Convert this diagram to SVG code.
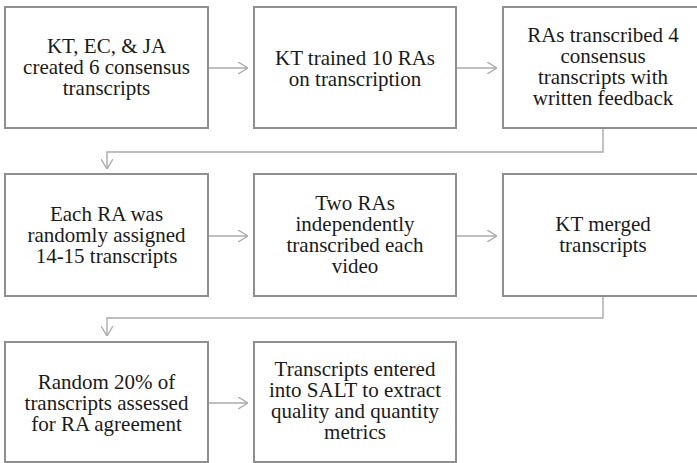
<svg xmlns="http://www.w3.org/2000/svg" width="697" height="463" viewBox="0 0 697 463">
<style>
.box{fill:#fff;stroke:#8f8f8f;stroke-width:2}
.con{fill:none;stroke:#aaaaaa;stroke-width:1.4}
.lbl{font-family:"Liberation Serif","Times New Roman",serif;font-size:21px;fill:#1a1a1a;text-anchor:middle}
</style>
<defs>
<marker id="arr" viewBox="0 0 10 12" refX="10" refY="6" markerWidth="10" markerHeight="12" markerUnits="userSpaceOnUse" orient="auto">
<path d="M0,0 L10,6 L0,12" fill="none" stroke="#aaaaaa" stroke-width="1.4"/>
</marker>
</defs>
<rect width="697" height="463" fill="#fff"/>
<g id="connectors">
<path class="con" d="M208,68 H248" marker-end="url(#arr)"/>
<path class="con" d="M456,68 H497" marker-end="url(#arr)"/>
<path class="con" d="M603,128 V152 H107 V169" marker-end="url(#arr)"/>
<path class="con" d="M208,236 H248" marker-end="url(#arr)"/>
<path class="con" d="M456,236 H497" marker-end="url(#arr)"/>
<path class="con" d="M603,296 V318 H107 V336" marker-end="url(#arr)"/>
<path class="con" d="M208,403 H248" marker-end="url(#arr)"/>
</g>
<g id="n1">
<rect class="box" x="5" y="7" width="203" height="121"/>
<text class="lbl" x="106.5" y="52.5"><tspan x="106.5">KT, EC, &amp; JA</tspan><tspan x="106.5" dy="21">created 6 consensus</tspan><tspan x="106.5" dy="21">transcripts</tspan></text>
</g>
<g id="n2">
<rect class="box" x="254" y="7" width="202" height="121"/>
<text class="lbl" x="355" y="64.5"><tspan x="355">KT trained 10 RAs</tspan><tspan x="355" dy="21">on transcription</tspan></text>
</g>
<g id="n3">
<rect class="box" x="503" y="7" width="202" height="121"/>
<text class="lbl" x="603" y="42"><tspan x="603">RAs transcribed 4</tspan><tspan x="603" dy="21">consensus</tspan><tspan x="603" dy="21">transcripts with</tspan><tspan x="603" dy="21">written feedback</tspan></text>
</g>
<g id="n4">
<rect class="box" x="5" y="174" width="203" height="122"/>
<text class="lbl" x="106.5" y="220.5"><tspan x="106.5">Each RA was</tspan><tspan x="106.5" dy="21">randomly assigned</tspan><tspan x="106.5" dy="21">14-15 transcripts</tspan></text>
</g>
<g id="n5">
<rect class="box" x="254" y="174" width="202" height="122"/>
<text class="lbl" x="355" y="210"><tspan x="355">Two RAs</tspan><tspan x="355" dy="21">independently</tspan><tspan x="355" dy="21">transcribed each</tspan><tspan x="355" dy="21">video</tspan></text>
</g>
<g id="n6">
<rect class="box" x="503" y="174" width="202" height="122"/>
<text class="lbl" x="603" y="231"><tspan x="603">KT merged</tspan><tspan x="603" dy="21">transcripts</tspan></text>
</g>
<g id="n7">
<rect class="box" x="5" y="342" width="203" height="120"/>
<text class="lbl" x="106.5" y="388.5"><tspan x="106.5">Random 20% of</tspan><tspan x="106.5" dy="21">transcripts assessed</tspan><tspan x="106.5" dy="21">for RA agreement</tspan></text>
</g>
<g id="n8">
<rect class="box" x="254" y="342" width="202" height="120"/>
<text class="lbl" x="355" y="376"><tspan x="355">Transcripts entered</tspan><tspan x="355" dy="21">into SALT to extract</tspan><tspan x="355" dy="21">quality and quantity</tspan><tspan x="355" dy="21">metrics</tspan></text>
</g>
</svg>
